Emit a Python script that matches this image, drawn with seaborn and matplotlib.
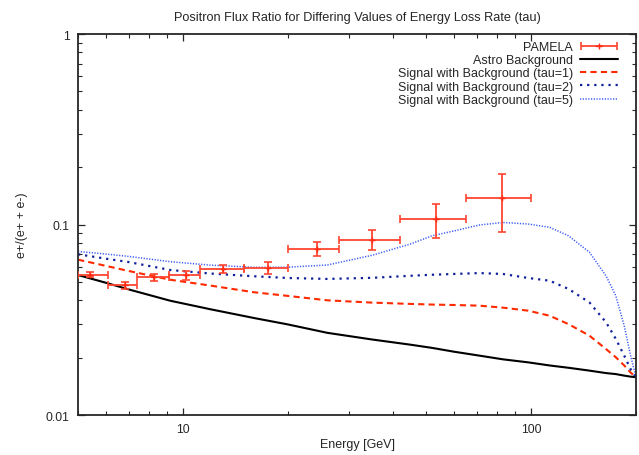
import matplotlib
matplotlib.use("Agg")
import matplotlib.pyplot as plt
from matplotlib.ticker import LogLocator, NullFormatter, FixedLocator, FixedFormatter
from matplotlib.legend_handler import HandlerErrorbar
import seaborn as sns
import pandas as pd
import numpy as np

sns.set_style("ticks")
plt.rcParams["font.family"] = ["Liberation Sans", "DejaVu Sans"]

# energy grid for the model curves (GeV)
energy = [5, 6, 7, 9.2, 12, 16, 20, 26, 35, 45, 52, 60, 71, 83, 98, 113, 128, 147, 164, 175, 185, 193, 200]
astro_bg = [0.0543, 0.0495, 0.0456, 0.0398, 0.0359, 0.0323, 0.0299, 0.0270, 0.0249, 0.0234, 0.0225, 0.0215,
            0.0205, 0.0196, 0.0189, 0.0182, 0.0177, 0.0171, 0.0166, 0.0164, 0.0161, 0.0159, 0.0158]
tau1 = [0.0654, 0.0607, 0.0570, 0.0513, 0.0478, 0.0441, 0.0422, 0.0400, 0.0389, 0.0383, 0.0380, 0.0378,
        0.0375, 0.0366, 0.0353, 0.0332, 0.0300, 0.0261, 0.0222, 0.0201, 0.0182, 0.0167, 0.0158]
tau2 = [0.0698, 0.0662, 0.0635, 0.0577, 0.0553, 0.0535, 0.0524, 0.0518, 0.0525, 0.0538, 0.0545, 0.0550,
        0.0556, 0.0550, 0.0524, 0.0507, 0.0459, 0.0390, 0.0307, 0.0251, 0.0205, 0.0174, 0.0158]
tau5 = [0.0722, 0.0700, 0.0680, 0.0638, 0.0612, 0.0596, 0.0597, 0.0613, 0.0690, 0.0790, 0.0873, 0.0925,
        0.0994, 0.1025, 0.1006, 0.0967, 0.0873, 0.0715, 0.0538, 0.0423, 0.0294, 0.0205, 0.0158]

# PAMELA positron fraction
pam_e = [5.41, 6.82, 8.26, 10.2, 13.08, 17.5, 24.2, 35.0, 53.3, 82.2]
pam_lo = [5.0, 6.1, 7.4, 9.1, 11.2, 15.0, 20.0, 28.0, 42.0, 65.0]
pam_hi = [6.1, 7.4, 9.1, 11.2, 15.0, 20.0, 28.0, 42.0, 65.0, 100.0]
pam_frac = [0.0545, 0.0481, 0.0528, 0.0543, 0.0584, 0.0593, 0.0746, 0.0832, 0.1065, 0.1373]
pam_err = [0.0015, 0.002, 0.0021, 0.003, 0.0028, 0.004, 0.006, 0.010, 0.022, 0.046]

curves = pd.DataFrame({"E": energy, "bg": astro_bg, "t1": tau1, "t2": tau2, "t5": tau5})

fig = plt.figure(figsize=(6.39, 4.56), dpi=100)
ax = fig.add_axes([0.1221, 0.0877, 0.8732, 0.8355])

xerr = [np.array(pam_e) - np.array(pam_lo), np.array(pam_hi) - np.array(pam_e)]
pam = ax.errorbar(pam_e, pam_frac, xerr=xerr, yerr=pam_err, fmt="+", color="#ff2a10",
                  ecolor="#ff4530", elinewidth=1.3, capsize=3, capthick=1.2, markersize=5,
                  label="PAMELA", zorder=3)

sns.lineplot(data=curves, x="E", y="bg", ax=ax, color="black", linewidth=1.5,
             label="Astro Background")
sns.lineplot(data=curves, x="E", y="t1", ax=ax, color="#ff2a00", linewidth=1.5,
             linestyle=(0, (3, 2)), label="Signal with Background (tau=1)")
sns.lineplot(data=curves, x="E", y="t2", ax=ax, color="#10209a", linewidth=1.6,
             linestyle=(0, (1, 2.2)), label="Signal with Background (tau=2)")
sns.lineplot(data=curves, x="E", y="t5", ax=ax, color="#3d5cf5", linewidth=1.1,
             linestyle=(0, (0.8, 1.0)), label="Signal with Background (tau=5)")

ax.set_xscale("log")
ax.set_yscale("log")
ax.set_xlim(5, 200)
ax.set_ylim(0.01, 1)

ax.xaxis.set_major_locator(FixedLocator([10, 100]))
ax.xaxis.set_major_formatter(FixedFormatter(["10", "100"]))
ax.xaxis.set_minor_locator(LogLocator(base=10, subs=np.arange(2, 10)))
ax.xaxis.set_minor_formatter(NullFormatter())
ax.yaxis.set_major_locator(FixedLocator([0.01, 0.1, 1]))
ax.yaxis.set_major_formatter(FixedFormatter(["0.01", "0.1", "1"]))
ax.yaxis.set_minor_locator(LogLocator(base=10, subs=np.arange(2, 10)))
ax.yaxis.set_minor_formatter(NullFormatter())

ax.tick_params(which="both", direction="in", top=True, right=True, labelsize=8.7, pad=6)
ax.tick_params(which="major", length=5, width=0.9)
ax.tick_params(which="minor", length=3, width=0.8)
for sp in ax.spines.values():
    sp.set_linewidth(1.3)

ax.set_xlabel("Energy [GeV]", fontsize=9, labelpad=2)
ax.set_ylabel("e+/(e+ + e-)", fontsize=9, labelpad=13)
ax.set_title("Positron Flux Ratio for Differing Values of Energy Loss Rate (tau)",
             fontsize=9.2, pad=10)

# PAMELA first in the key, as in the original
handles, labels = ax.get_legend_handles_labels()
idx = labels.index("PAMELA")
order = [idx] + [i for i in range(len(labels)) if i != idx]
leg = ax.legend([handles[i] for i in order], [labels[i] for i in order],
                loc="upper right", frameon=False, markerfirst=False, fontsize=9,
                handlelength=3.0, borderaxespad=0.4, labelspacing=0.1, handletextpad=0.6,
                bbox_to_anchor=(0.985, 1.008),
                handler_map={type(pam): HandlerErrorbar(xerr_size=1.45, yerr_size=0.0)})

fig.savefig("out.png", dpi=100)
